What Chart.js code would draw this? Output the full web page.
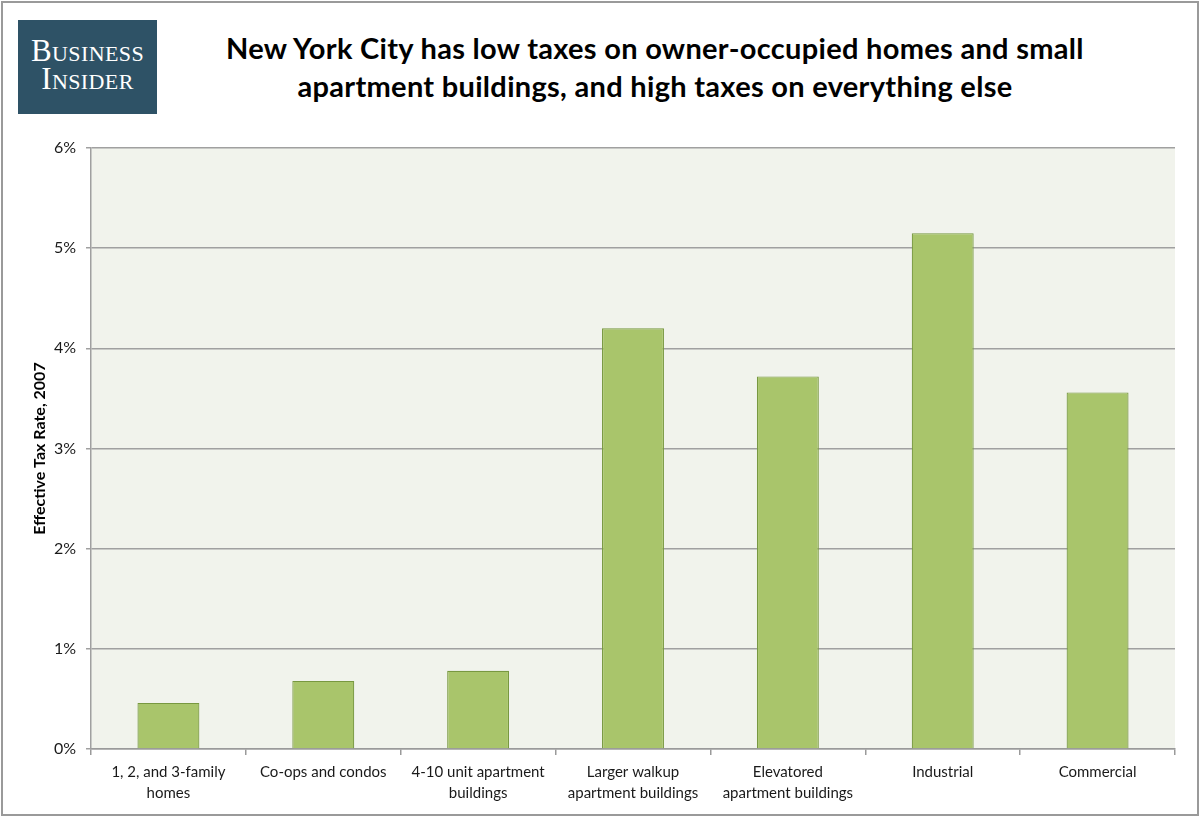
<!DOCTYPE html>
<html>
<head>
<meta charset="utf-8">
<script src="https://cdn.jsdelivr.net/npm/chart.js@4.4.1/dist/chart.umd.min.js"></script>
<style>
  html, body { margin: 0; padding: 0; background: #fff; }
  #frame { position: absolute; left: 1px; top: 1px; width: 1194px; height: 811px; border: 2px solid #9a9a9a; }
  #logo { position: absolute; left: 18px; top: 20px; width: 139px; height: 94px; background: #2e5266; color: #fff;
          font-family: "Liberation Serif", "DejaVu Serif", serif; font-variant: small-caps; font-size: 31px;
          letter-spacing: 0.4px; line-height: 28px; text-align: center; box-sizing: border-box; padding-top: 17px; }
  #title { position: absolute; left: 155px; top: 29px; width: 1000px; text-align: center;
           font-family: Lato, "Open Sans", sans-serif; font-weight: bold; font-size: 29px; letter-spacing: 0.3px;
           line-height: 38px; color: #000; }
  #wrap { position: absolute; left: 0; top: 0; width: 1200px; height: 817px; }
</style>
</head>
<body>
<div id="frame"></div>
<div id="logo">Business<br>Insider</div>
<div id="title">New York City has low taxes on owner-occupied homes and small<br>apartment buildings, and high taxes on everything else</div>
<div id="wrap"><canvas id="taxChart"></canvas></div>
<script>
const categories = [
  ["1, 2, and 3-family", "homes"],
  ["Co-ops and condos"],
  ["4-10 unit apartment", "buildings"],
  ["Larger walkup", "apartment buildings"],
  ["Elevatored", "apartment buildings"],
  ["Industrial"],
  ["Commercial"]
];
const taxRates = [0.46, 0.68, 0.78, 4.20, 3.72, 5.15, 3.56];
const yTicks = [0, 1, 2, 3, 4, 5, 6];
const yTitle = "Effective Tax Rate, 2007";

const plotBg = {
  id: "plotBg",
  beforeDraw(chart) {
    const { ctx, chartArea: a } = chart;
    ctx.save();
    ctx.fillStyle = "#f1f3ec";
    ctx.fillRect(a.left, a.top, a.right - a.left, a.bottom - a.top);
    ctx.restore();
  }
};

const font = "Lato, 'Open Sans', sans-serif";

new Chart(document.getElementById("taxChart"), {
  type: "bar",
  data: {
    labels: categories,
    datasets: [{
      data: taxRates,
      backgroundColor: "#a9c56b",
      borderColor: "#789840",
      borderWidth: 1.2,
      barPercentage: 0.4,
      categoryPercentage: 1
    }]
  },
  options: {
    responsive: true,
    maintainAspectRatio: false,
    animation: false,
    layout: { padding: { left: 26, right: 25, top: 148, bottom: 0 } },
    plugins: { legend: { display: false }, tooltip: { enabled: false } },
    scales: {
      x: {
        grid: { offset: true, drawOnChartArea: false, drawTicks: true, tickLength: 6, color: "#9a9a9a", lineWidth: 1.5 },
        border: { color: "#9a9a9a", width: 1.5 },
        ticks: { color: "#1a1a1a", font: { family: font, size: 15, lineHeight: 1.45 }, maxRotation: 0, autoSkip: false, padding: 6 },
        afterFit(s) { s.height = 68; }
      },
      y: {
        min: 0,
        max: 6,
        afterBuildTicks(s) { s.ticks = yTicks.map(v => ({ value: v })); },
        grid: { color: "#a0a0a0", lineWidth: 1.5, tickLength: 5 },
        border: { color: "#a0a0a0", width: 1.5 },
        ticks: { color: "#1a1a1a", font: { family: font, size: 16 }, padding: 10, callback: v => v + "%" },
        title: { display: true, text: yTitle, color: "#000", font: { family: font, size: 16, weight: "bold" }, padding: { top: 4, bottom: 4 } },
        afterFit(s) { s.width = 65; }
      }
    }
  },
  plugins: [plotBg]
});
</script>
</body>
</html>
